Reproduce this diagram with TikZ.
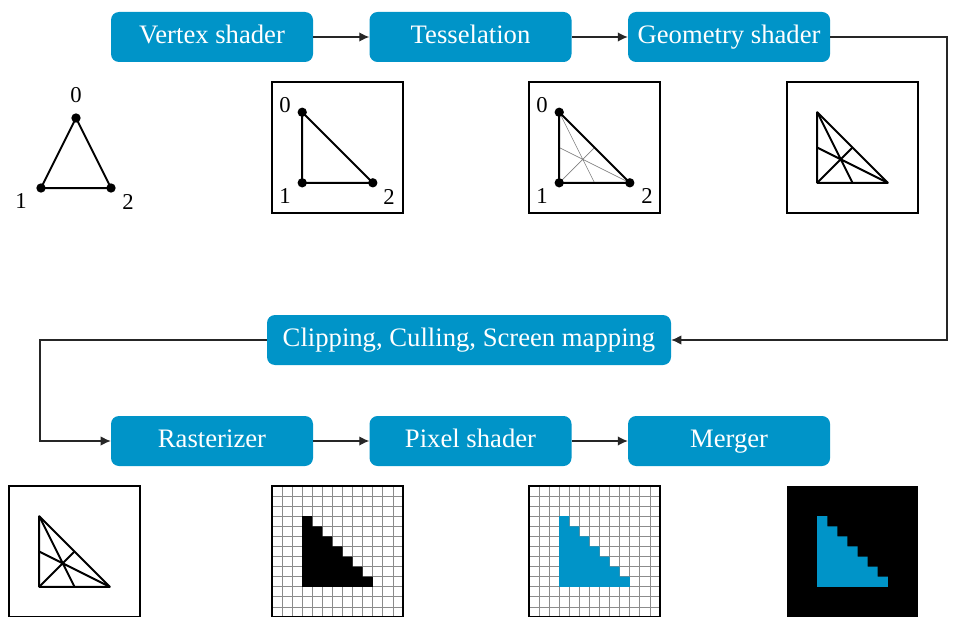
\documentclass[tikz,border=0pt]{standalone}
\usepackage{fontspec}
\setmainfont{Liberation Serif}
\definecolor{pipeblue}{RGB}{0,148,200}
\definecolor{gridgray}{RGB}{140,140,140}
\usetikzlibrary{positioning, arrows.meta}

\begin{document}
\begin{tikzpicture}[x=0.75pt, y=-0.75pt,
    stage/.style={fill=pipeblue, text=white, rounded corners=6pt,
      minimum width=151.5pt, minimum height=37.5pt, inner sep=3pt,
      text height=14pt, text depth=4.4pt,
      font=\fontsize{20}{23}\selectfont},
    flow/.style={-{Latex[length=7.5pt,width=7pt]}, line width=0.8pt, black!85},
    cellunit/.style={x=7.56pt, y=-7.56pt},
    frame/.style={draw, line width=1.5pt},
    gridline/.style={gridgray, line width=0.6pt},
    tri/.style={line width=1.5pt, line join=round},
    median/.style={gray, line width=0.5pt},
    dot/.style={circle, fill, inner sep=0pt, minimum size=7pt},
    lab/.style={font=\fontsize{17}{19}\selectfont},
    node distance=42pt,
  ]
  \useasboundingbox (0,0) rectangle (961,617);

  % pipeline stages
  \node[stage] (vs) at (212,37) {Vertex shader};
  \node[stage, right=of vs] (tes) {Tesselation};
  \node[stage, right=of tes] (geo) {Geometry shader};
  \node[stage, minimum width=303pt] (clip) at (469,340) {Clipping, Culling, Screen mapping};
  \node[stage] (rast) at (212,441) {Rasterizer};
  \node[stage, right=of rast] (pix) {Pixel shader};
  \node[stage, right=of pix] (mrg) {Merger};

  \coordinate (rturn) at (947,37);
  \coordinate (lturn) at (40,340);
  \draw[flow] (vs) -- (tes);
  \draw[flow] (tes) -- (geo);
  \draw[flow] (geo) -- (rturn) |- (clip);
  \draw[flow] (clip) -- (lturn) |- (rast);
  \draw[flow] (rast) -- (pix);
  \draw[flow] (pix) -- (mrg);

  % input triangle
  \node[dot] (t0) at (76,118) {};
  \node[dot] (t1) at (41,188) {};
  \node[dot] (t2) at (111,188) {};
  \draw[tri] (t0.center) -- (t1.center) -- (t2.center) -- cycle;
  \node[lab] (tl0) at (76,95) {0};
  \node[lab] (tl1) at (21,201) {1};
  \node[lab] (tl2) at (128,202) {2};

  % after vertex shader
  \begin{scope}[shift={(272,82)}, cellunit]
    \draw[frame] (0,0) rectangle (13,13);
    \node[dot] (a0) at (3,3) {};
    \node[dot] (a1) at (3,10) {};
    \node[dot] (a2) at (10,10) {};
    \draw[tri] (a0.center) -- (a1.center) -- (a2.center) -- cycle;
    \node[lab] (al0) at (1.3,2.3) {0};
    \node[lab] (al1) at (1.3,11.3) {1};
    \node[lab] (al2) at (11.6,11.4) {2};
  \end{scope}

  % after tesselation
  \begin{scope}[shift={(529,82)}, cellunit]
    \draw[frame] (0,0) rectangle (13,13);
    \draw[median] (3,3) -- (6.5,10) (3,10) -- (6.5,6.5) (10,10) -- (3,6.5);
    \node[dot] (b0) at (3,3) {};
    \node[dot] (b1) at (3,10) {};
    \node[dot] (b2) at (10,10) {};
    \draw[tri] (b0.center) -- (b1.center) -- (b2.center) -- cycle;
    \node[lab] (bl0) at (1.3,2.3) {0};
    \node[lab] (bl1) at (1.3,11.3) {1};
    \node[lab] (bl2) at (11.7,11.3) {2};
  \end{scope}

  % after geometry shader
  \begin{scope}[shift={(787,82)}, cellunit]
    \draw[frame] (0,0) rectangle (13,13);
    \draw[tri] (3,3) -- (3,10) -- (10,10) -- cycle;
    \draw[tri] (3,3) -- (6.5,10) (3,10) -- (6.5,6.5) (10,10) -- (3,6.5);
  \end{scope}

  % after clipping
  \begin{scope}[shift={(9,486)}, cellunit]
    \draw[frame] (0,0) rectangle (13,13);
    \draw[tri] (3,3) -- (3,10) -- (10,10) -- cycle;
    \draw[tri] (3,3) -- (6.5,10) (3,10) -- (6.5,6.5) (10,10) -- (3,6.5);
  \end{scope}

  % rasterized
  \begin{scope}[shift={(272,486)}, cellunit]
    \foreach \i in {1,...,12} {
      \draw[gridline] (\i,0) -- (\i,13);
      \draw[gridline] (0,\i) -- (13,\i);
    }
    \fill (3,3) -| (4,4) -| (5,5) -| (6,6) -| (7,7) -| (8,8) -| (9,9) -| (10,10) -- (3,10) -- cycle;
    \draw[frame] (0,0) rectangle (13,13);
  \end{scope}

  % shaded
  \begin{scope}[shift={(529,486)}, cellunit]
    \foreach \i in {1,...,12} {
      \draw[gridline] (\i,0) -- (\i,13);
      \draw[gridline] (0,\i) -- (13,\i);
    }
    \fill[pipeblue] (3,3) -| (4,4) -| (5,5) -| (6,6) -| (7,7) -| (8,8) -| (9,9) -| (10,10) -- (3,10) -- cycle;
    \draw[frame] (0,0) rectangle (13,13);
  \end{scope}

  % merged
  \begin{scope}[shift={(787,486)}, cellunit]
    \fill (0,0) rectangle (13,13);
    \fill[pipeblue] (3,3) -| (4,4) -| (5,5) -| (6,6) -| (7,7) -| (8,8) -| (9,9) -| (10,10) -- (3,10) -- cycle;
  \end{scope}
\end{tikzpicture}
\end{document}
